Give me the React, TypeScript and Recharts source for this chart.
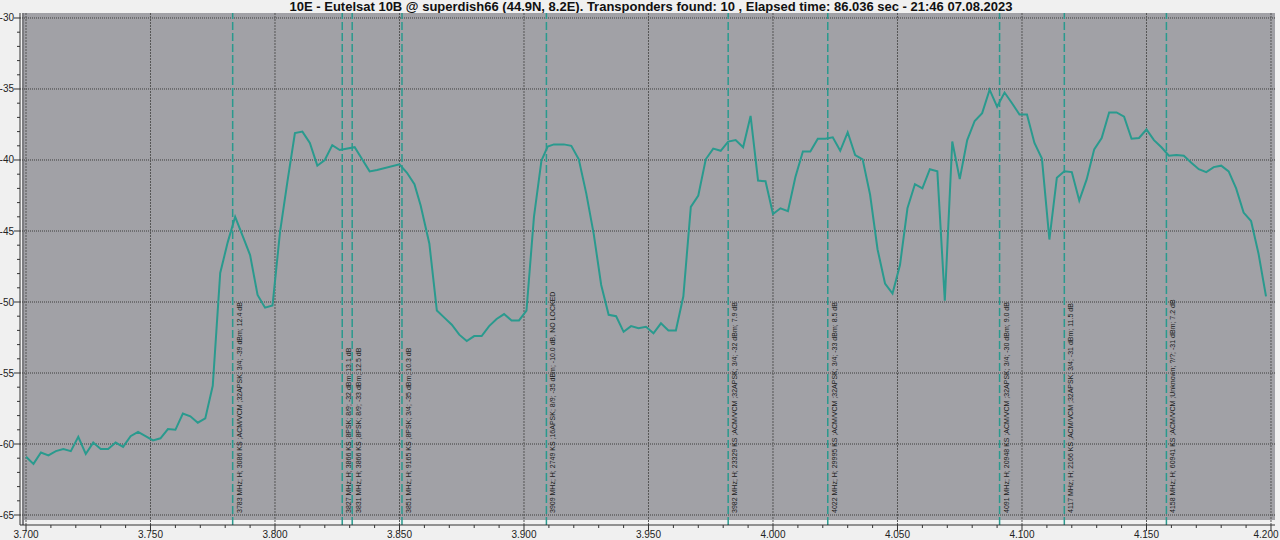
import React from 'react';
import { LineChart, Line, XAxis, YAxis, ReferenceLine, ReferenceArea } from 'recharts';

const TITLE =
  '10E - Eutelsat 10B @ superdish66 (44.9N, 8.2E). Transponders found: 10 , Elapsed time: 86.036 sec - 21:46 07.08.2023';

const freqMHz = [
  3700, 3703, 3706, 3709, 3712, 3715, 3718, 3721, 3724, 3727, 3730, 3733, 3736, 3739, 3742, 3745, 3748, 3751,
  3754, 3757, 3760, 3763, 3766, 3769, 3772, 3775, 3778, 3781, 3784, 3787, 3790, 3793, 3796, 3799, 3802, 3805,
  3808, 3811, 3814, 3817, 3820, 3823, 3826, 3832, 3835, 3838, 3841, 3850, 3853, 3856, 3858.5, 3862, 3865, 3868,
  3871, 3874, 3877, 3880, 3883, 3886, 3889, 3892, 3895, 3898, 3901, 3904, 3907, 3909.5, 3912, 3916, 3919, 3922,
  3925, 3928, 3931, 3934, 3937, 3940, 3943, 3946, 3949, 3952, 3955, 3958, 3961, 3964, 3967, 3970, 3973, 3976,
  3979, 3982, 3985, 3988, 3991, 3994, 3997, 4000, 4003, 4006, 4009, 4012, 4015, 4018, 4021, 4024, 4027, 4030,
  4033, 4036, 4039, 4042, 4045, 4048, 4051, 4054, 4057, 4060, 4063, 4066, 4069, 4072, 4075, 4078, 4081, 4084,
  4087, 4090, 4093, 4096, 4099, 4102, 4105, 4108, 4111, 4114, 4117, 4120, 4123, 4126, 4129, 4132, 4135, 4138,
  4141, 4144, 4147, 4150, 4153, 4156, 4159, 4162, 4165, 4168, 4171, 4174, 4177, 4180, 4183, 4186, 4189, 4192,
  4195, 4198,
];

const levelDbm = [
  -60.9, -61.4, -60.6, -60.8, -60.5, -60.35, -60.5, -59.5, -60.7, -59.9, -60.35, -60.35, -59.9, -60.2, -59.45,
  -59.15, -59.45, -59.75, -59.6, -58.95, -59.0, -57.85, -58.05, -58.5, -58.2, -55.9, -47.95, -45.8, -44.0, -45.35,
  -46.7, -49.5, -50.4, -50.25, -45.1, -41.5, -38.1, -38.0, -38.8, -40.4, -40.0, -38.95, -39.3, -39.1, -39.95,
  -40.8, -40.7, -40.3, -40.9, -41.7, -43.2, -45.9, -50.6, -51.1, -51.6, -52.3, -52.75, -52.4, -52.4, -51.7, -51.2,
  -50.85, -51.3, -51.3, -50.6, -44.0, -40.05, -39.05, -38.9, -38.9, -39.0, -39.95, -42.35, -45.2, -48.8, -50.9,
  -51.0, -52.1, -51.7, -51.85, -51.75, -52.2, -51.5, -52.0, -52.0, -49.6, -43.3, -42.5, -39.95, -39.2, -39.35,
  -38.7, -38.6, -39.1, -36.9, -41.45, -41.5, -43.8, -43.4, -43.6, -41.2, -39.4, -39.4, -38.5, -38.5, -38.4,
  -39.35, -38.05, -39.65, -39.95, -42.45, -46.3, -48.7, -49.4, -47.4, -43.4, -41.7, -42.0, -40.65, -40.8, -49.9,
  -38.7, -41.35, -38.6, -37.25, -36.7, -35.05, -36.25, -35.25, -36.0, -36.8, -36.8, -38.8, -39.9, -45.6, -41.25,
  -40.8, -40.85, -42.85, -41.35, -39.25, -38.45, -36.65, -36.65, -36.95, -38.5, -38.45, -37.85, -38.6, -39.1,
  -39.7, -39.65, -39.7, -40.2, -40.65, -40.85, -40.5, -40.4, -40.8, -42.0, -43.7, -44.3, -46.6, -49.6,
];

const transponderFreqs = [3783, 3827, 3831, 3851, 3909, 3982, 4022, 4091, 4117, 4158];
const transponderLabels = [
  '3783 MHz; H; 3086 KS ;ACM/VCM ;32APSK; 3/4; -39 dBm; 12.4 dB',
  '3827 MHz; H; 3866 KS ;8PSK; 8/9; -32 dBm; 13.1 dB',
  '3831 MHz; H; 3866 KS ;8PSK; 8/9; -33 dBm; 12.5 dB',
  '3851 MHz; H; 9165 KS ;8PSK; 3/4; -35 dBm; 10.3 dB',
  '3909 MHz; H; 2749 KS ;16APSK; 8/9; -35 dBm; -10.0 dB, NO LOCKED',
  '3982 MHz; H; 23329 KS ;ACM/VCM ;32APSK; 3/4; -32 dBm; 7.9 dB',
  '4022 MHz; H; 29995 KS ;ACM/VCM ;32APSK; 3/4; -33 dBm; 8.5 dB',
  '4091 MHz; H; 20948 KS ;ACM/VCM ;32APSK; 3/4; -30 dBm; 9.0 dB',
  '4117 MHz; H; 2166 KS ;ACM/VCM ;32APSK; 3/4; -31 dBm; 11.5 dB',
  '4158 MHz; H; 60941 KS ;ACM/VCM ;Unknown; ?/?; -31 dBm; 7.2 dB',
];

const xMajorTicks = [3700, 3750, 3800, 3850, 3900, 3950, 4000, 4050, 4100, 4150, 4200];
const xAllTicks = Array.from({ length: 51 }, (_, i) => 3700 + i * 10);
const yMajorTicks = [-30, -35, -40, -45, -50, -55, -60, -65];
const yAllTicks = Array.from({ length: 36 }, (_, i) => -65 + i);

const data = freqMHz.map((f, i) => ({ f, v: levelDbm[i] }));

const FONT = '"Liberation Sans", Arial, sans-serif';
const TEAL = '#2a9a8e';

const XTick = (props: any) => {
  const { x, y, payload } = props;
  const v = payload.value;
  const major = v % 50 === 0;
  const halfW = 13;
  const shift = Math.min(0, 1279 - (x + halfW));
  return (
    <g>
      <line x1={x} x2={x} y1={y} y2={y + (major ? 6 : 3)} stroke="#333" />
      {major && (
        <text x={x + shift} y={y + 13} textAnchor="middle" fontSize={10} fontFamily={FONT} fill="#222">
          {(v / 1000).toFixed(3)}
        </text>
      )}
    </g>
  );
};

const YTick = (props: any) => {
  const { x, y, payload } = props;
  const v = payload.value;
  const major = v % 5 === 0;
  return (
    <g>
      <line x1={x} x2={x - (major ? 6 : 3)} y1={y} y2={y} stroke="#333" />
      {major && (
        <text x={x - 6} y={y + 3.5} textAnchor="end" fontSize={10} fontFamily={FONT} fill="#222">
          {v}
        </text>
      )}
    </g>
  );
};

const MarkerLabel = (props: any) => {
  const { viewBox, text } = props;
  if (!viewBox) return null;
  const x = viewBox.x + 9;
  const y = viewBox.y + viewBox.height - 12;
  return (
    <text x={x} y={y} transform={`rotate(-90 ${x} ${y})`} fontSize={7} fontFamily={FONT} fill="#1a1a1a">
      {text}
    </text>
  );
};

export default function App() {
  return (
    <div style={{ position: 'absolute', left: 0, top: 0, width: 1280, height: 540, background: '#f0f0f0' }}>
      <div
        style={{
          position: 'absolute',
          left: 0,
          top: 0,
          width: 1280,
          paddingLeft: 22,
          boxSizing: 'border-box',
          textAlign: 'center',
          fontFamily: FONT,
          fontWeight: 'bold',
          fontSize: 13,
          lineHeight: '14px',
          color: '#111',
        }}
      >
        {TITLE}
      </div>
      <LineChart width={1280} height={540} data={data} margin={{ top: 13, right: 5, bottom: 0, left: 0 }}>
        <XAxis
          type="number"
          dataKey="f"
          domain={[3697.59, 4201.61]}
          allowDataOverflow
          ticks={xAllTicks}
          interval={0}
          tick={<XTick />}
          tickLine={false}
          tickSize={0}
          tickMargin={0}
          height={15}
          axisLine={{ stroke: '#333' }}
        />
        <YAxis
          type="number"
          domain={[-65.704, -29.648]}
          allowDataOverflow
          ticks={yAllTicks}
          interval={0}
          tick={<YTick />}
          tickLine={false}
          tickSize={0}
          tickMargin={0}
          width={20}
          axisLine={{ stroke: '#333' }}
        />
        <ReferenceArea
          x1={3698.8}
          x2={4201.61}
          y1={-65.352}
          y2={-29.648}
          fill="#a1a1a6"
          fillOpacity={1}
          stroke="none"
          ifOverflow="visible"
        />
        <ReferenceLine x={3698.8} stroke="#7c7c80" strokeWidth={2} />
        {yMajorTicks.map((t) => (
          <ReferenceLine key={'h' + t} y={t} stroke="#3c3c3c" strokeDasharray="1 1" strokeWidth={1} />
        ))}
        {xMajorTicks.map((t) => (
          <ReferenceLine key={'v' + t} x={t} stroke="#555" strokeDasharray="2 1" strokeWidth={1} />
        ))}
        {transponderFreqs.map((f, i) => (
          <ReferenceLine
            key={'t' + f}
            x={f}
            stroke={TEAL}
            strokeWidth={1.5}
            strokeDasharray="8 3"
            label={<MarkerLabel text={transponderLabels[i]} />}
          />
        ))}
        <Line
          type="linear"
          dataKey="v"
          stroke={TEAL}
          strokeWidth={2}
          dot={false}
          activeDot={false}
          isAnimationActive={false}
        />
      </LineChart>
    </div>
  );
}
